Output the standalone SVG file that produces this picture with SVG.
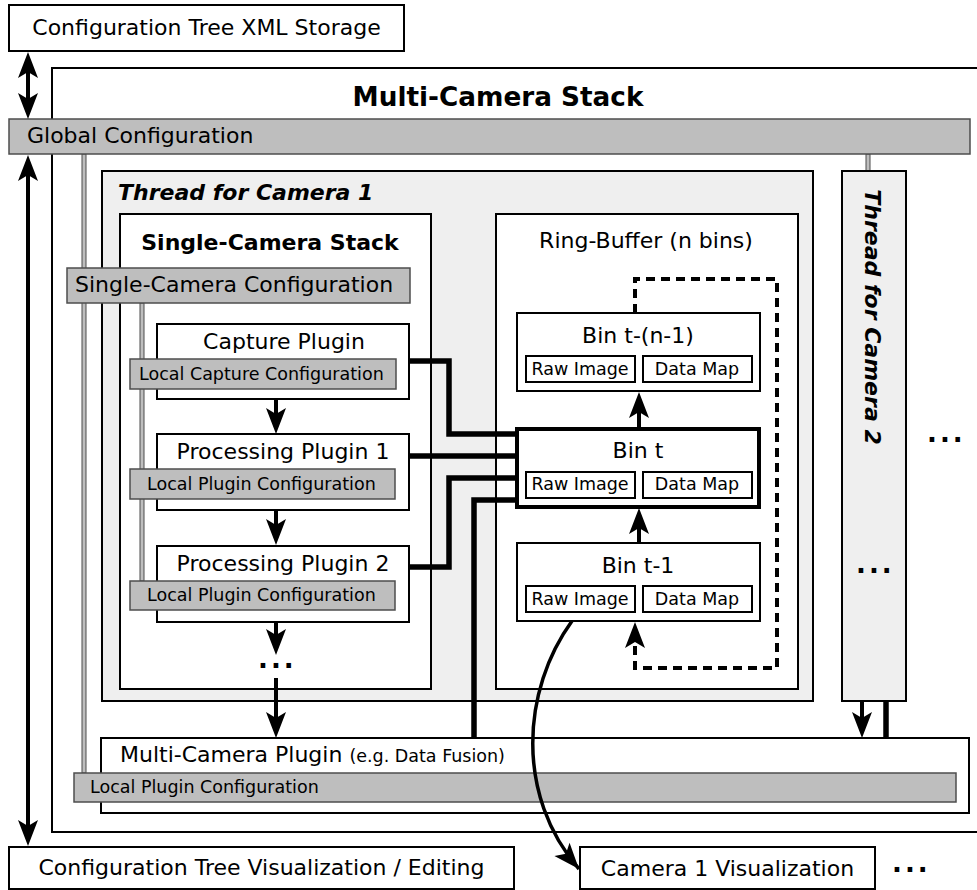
<svg xmlns="http://www.w3.org/2000/svg" width="977" height="890" viewBox="0 0 977 890">
<style>
text{font-family:"DejaVu Sans","Liberation Sans",sans-serif;fill:#000}
.t22{font-size:22px}
.t17{font-size:17.5px}
.b{font-weight:bold}
.bi{font-weight:bold;font-style:italic}
.dots{font-weight:bold;font-size:26px;letter-spacing:3px}
.box{fill:#fff;stroke:#000;stroke-width:2}
.thr{fill:#efefef;stroke:#000;stroke-width:2}
.cfg{fill:#bebebe;stroke:#4d4d4d;stroke-width:1.5}
.gl{fill:#bebebe;stroke:#4d4d4d;stroke-width:1}
.ar{fill:none;stroke:#000;stroke-width:4}
.thick{fill:none;stroke:#000;stroke-width:5.5}
.mid{text-anchor:middle}
</style>
<defs>
<marker id="ah" markerUnits="userSpaceOnUse" markerWidth="40" markerHeight="40" orient="auto-start-reverse" overflow="visible" refX="0" refY="0"><path d="M20,0 L-6,-10 L0,0 L-6,10 Z" fill="#000"/></marker>
<marker id="ah0" markerUnits="userSpaceOnUse" markerWidth="40" markerHeight="40" orient="auto" overflow="visible" refX="0" refY="0"><path d="M0,0 L-26,-10 L-20,0 L-26,10 Z" fill="#000"/></marker>
</defs>

<g id="xml-storage"><rect class="box" x="9" y="5" width="395" height="46"/><text class="t22 mid" x="206.5" y="35">Configuration Tree XML Storage</text></g>

<g id="multi-camera-stack"><rect class="box" x="52" y="68" width="930" height="764"/><text class="b mid" style="font-size:26.3px" x="498" y="106">Multi-Camera Stack</text></g>

<g id="gray-links">
<rect class="gl" x="82" y="154" width="4" height="619"/>
<rect class="gl" x="866" y="154" width="4" height="17"/>
</g>

<g id="global-config"><rect class="cfg" x="9" y="119" width="961" height="35"/><text class="t22" x="27" y="143">Global Configuration</text></g>

<g id="thread-cam1"><rect class="thr" x="102" y="171" width="711" height="530"/><text class="t22 bi" x="118" y="200">Thread for Camera 1</text></g>

<g id="single-camera-stack"><rect class="box" x="120" y="214" width="311" height="475"/><text class="t22 b mid" x="270" y="250">Single-Camera Stack</text></g>

<g id="ring-buffer"><rect class="box" x="496" y="214" width="302" height="475"/><text class="t22 mid" x="646" y="248">Ring-Buffer (n bins)</text></g>

<g id="gray-links-2"><rect class="gl" x="140" y="303" width="4" height="278"/></g>

<g id="single-camera-config"><rect class="cfg" x="67" y="268" width="343" height="35"/><text class="t22" x="75" y="292">Single-Camera Configuration</text></g>

<g id="capture-plugin"><rect class="box" x="157" y="324" width="252" height="75"/><text class="t22 mid" x="284" y="349">Capture Plugin</text>
<rect class="cfg" x="130" y="359" width="266" height="30"/><text class="t17" x="139" y="380">Local Capture Configuration</text></g>

<g id="processing-plugin-1"><rect class="box" x="157" y="434" width="252" height="76"/><text class="t22 mid" x="283" y="459">Processing Plugin 1</text>
<rect class="cfg" x="130" y="469" width="265" height="30"/><text class="t17" x="147" y="490">Local Plugin Configuration</text></g>

<g id="processing-plugin-2"><rect class="box" x="157" y="546" width="252" height="76"/><text class="t22 mid" x="283" y="571">Processing Plugin 2</text>
<rect class="cfg" x="130" y="581" width="265" height="29"/><text class="t17" x="147" y="601">Local Plugin Configuration</text></g>

<g id="bin-tn1"><rect class="box" x="517" y="313" width="243" height="78"/><text class="t22 mid" x="638" y="343">Bin t-(n-1)</text>
<rect class="box" x="526" y="356" width="109" height="26"/><text class="t17 mid" x="580" y="375">Raw Image</text>
<rect class="box" x="643" y="356" width="109" height="26"/><text class="t17 mid" x="697" y="375">Data Map</text></g>

<g id="bin-t"><rect class="box" x="517" y="429" width="242" height="78" style="stroke-width:4"/><text class="t22 mid" x="638" y="458">Bin t</text>
<rect class="box" x="526" y="472" width="109" height="26"/><text class="t17 mid" x="580" y="490">Raw Image</text>
<rect class="box" x="643" y="472" width="109" height="26"/><text class="t17 mid" x="697" y="490">Data Map</text></g>

<g id="bin-t1"><rect class="box" x="517" y="543" width="243" height="78"/><text class="t22 mid" x="638" y="573">Bin t-1</text>
<rect class="box" x="526" y="586" width="109" height="26"/><text class="t17 mid" x="580" y="605">Raw Image</text>
<rect class="box" x="643" y="586" width="109" height="26"/><text class="t17 mid" x="697" y="605">Data Map</text></g>

<g id="thread-cam2"><rect class="thr" x="842" y="171" width="64" height="530"/><text class="t22 bi mid" transform="translate(865,317) rotate(90)">Thread for Camera 2</text><text class="dots" x="856" y="573">...</text></g>

<g id="multi-camera-plugin"><rect class="box" x="101" y="738" width="868" height="75"/><text class="t22" x="120" y="762">Multi-Camera Plugin <tspan style="font-size:17.5px">(e.g. Data Fusion)</tspan></text>
<rect class="cfg" x="74" y="773" width="882" height="29"/><text class="t17" x="90" y="793">Local Plugin Configuration</text></g>

<g id="tree-visualization"><rect class="box" x="9" y="847" width="505" height="42"/><text class="t22 mid" x="261.5" y="875">Configuration Tree Visualization / Editing</text></g>

<g id="camera1-visualization"><rect class="box" x="580" y="847" width="295" height="42"/><text class="t22 mid" x="727.5" y="876">Camera 1 Visualization</text></g>

<g id="ellipses">
<text class="dots" x="258" y="668">...</text>
<text class="dots" x="927" y="442">...</text>
<text class="dots" x="892" y="872">...</text>
</g>

<g id="connectors">
<line class="ar" x1="28" y1="72" x2="28" y2="99" marker-start="url(#ah)" marker-end="url(#ah)"/>
<line class="ar" x1="28" y1="175" x2="28" y2="826" marker-start="url(#ah)" marker-end="url(#ah)"/>
<line class="ar" x1="276" y1="399" x2="276" y2="414" marker-end="url(#ah)"/>
<line class="ar" x1="276" y1="510" x2="276" y2="525" marker-end="url(#ah)"/>
<line class="ar" x1="276" y1="622" x2="276" y2="635" marker-end="url(#ah)"/>
<line class="ar" x1="276" y1="678" x2="276" y2="718" marker-end="url(#ah)"/>
<line class="ar" x1="639" y1="428" x2="639" y2="412" marker-end="url(#ah)"/>
<line class="ar" x1="639" y1="543" x2="639" y2="528" marker-end="url(#ah)"/>
<path class="ar" d="M635,313 V279 H777 V668 H635 V642" stroke-dasharray="9 6" marker-end="url(#ah)"/>
<line class="ar" x1="862" y1="701" x2="862" y2="718" marker-end="url(#ah)"/>
<line class="thick" x1="886" y1="701" x2="886" y2="738"/>
<path class="thick" d="M409,361 H449 V434 H517"/>
<path class="thick" d="M409,456 H517"/>
<path class="thick" d="M409,567 H449 V478 H517"/>
<path class="thick" d="M474,738 V500 H517"/>
<path d="M572,621 C522,690 515,795 579,869" fill="none" stroke="#000" stroke-width="3.5" marker-end="url(#ah0)"/>
</g>
</svg>
